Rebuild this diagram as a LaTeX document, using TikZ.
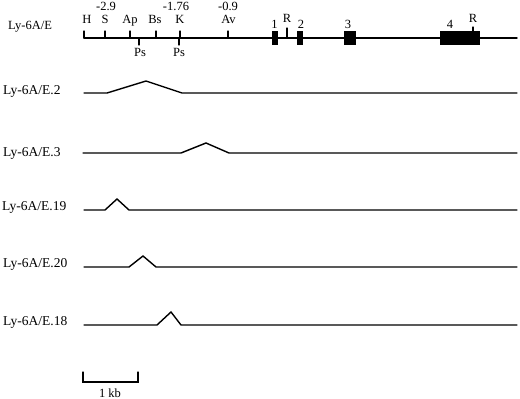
\documentclass[tikz,border=0pt]{standalone}
\usepackage{fontspec}
\setmainfont{Liberation Serif}
\usepackage{tikz}
\usepackage{tkz-euclide}

\begin{document}
\begin{tikzpicture}[x=1pt, y=-1pt,
    gene/.style={black, line width=1.4pt},
    site/.style={black, line width=1.1pt},
    sitelbl/.style={font=\fontsize{12.5}{14}\selectfont, inner sep=0pt, anchor=base},
    rowlbl/.style={font=\fontsize{13.5}{16}\selectfont, inner sep=0pt, anchor=base west}]
                \useasboundingbox (0,0) rectangle (520,399);
                \tkzDefPoints{84/38/G0, 517/38/G1}
                \tkzDefPoints{84/31/H, 105/31/S, 130/31/Ap, 156/31/Bs, 180/31/K, 228/31/Av, 139/45/Psa, 179/45/Psb, 287/28/Ra, 473/27/Rb}
                \tkzDefPoints{84/38/h, 105/38/s, 130/38/ap, 156/38/bs, 180/38/k, 228/38/av, 139/38/psa, 179/38/psb, 287/38/ra, 473/31/rb}
                \tkzDefPoints{272/31/Xa, 278/45/Xb, 297/31/Ya, 303/45/Yb, 344/31/Za, 356/45/Zb, 440/31/Wa, 480/45/Wb}
                \tkzDrawSegments[gene](G0,G1)
                \tkzDrawSegments[site](H,h S,s Ap,ap Bs,bs K,k Av,av Psa,psa Psb,psb Ra,ra Rb,rb)
                \fill (Xa) rectangle (Xb);
                \fill (Ya) rectangle (Yb);
                \fill (Za) rectangle (Zb);
                \fill (Wa) rectangle (Wb);
                \node[sitelbl] (lH) at (87,23) {H};
                \node[sitelbl] (lS) at (105,23) {S};
                \node[sitelbl] (lAp) at (130,23) {Ap};
                \node[sitelbl] (lBs) at (155,23) {Bs};
                \node[sitelbl] (lK) at (180,23) {K};
                \node[sitelbl] (lAv) at (228.5,23) {Av};
                \node[sitelbl] (nS) at (106,10) {-2.9};
                \node[sitelbl] (nK) at (176,10) {-1.76};
                \node[sitelbl] (nAv) at (228,10) {-0.9};
                \node[sitelbl] (lPsa) at (140,56) {Ps};
                \node[sitelbl] (lPsb) at (179,56) {Ps};
                \node[sitelbl] (e1) at (274.5,28) {1};
                \node[sitelbl] (lRa) at (287,22) {R};
                \node[sitelbl] (e2) at (301,28) {2};
                \node[sitelbl] (e3) at (348,28) {3};
                \node[sitelbl] (e4) at (450,28) {4};
                \node[sitelbl] (lRb) at (473,22) {R};
                \node[rowlbl, font=\fontsize{12.5}{15}\selectfont] (wt) at (8,29) {Ly-6A/E};
                \tkzDefPoints{84/93/A0, 107/93/A1, 146/81/A2, 182/93/A3, 517/93/A4}
                \tkzDrawPolySeg[gene](A0,A1,A2,A3,A4)
                \node[rowlbl] (mA) at (3,94) {Ly-6A/E.2};
                \tkzDefPoints{83/153/B0, 181/153/B1, 206/143/B2, 229/153/B3, 517/153/B4}
                \tkzDrawPolySeg[gene](B0,B1,B2,B3,B4)
                \node[rowlbl] (mB) at (3,156) {Ly-6A/E.3};
                \tkzDefPoints{84/210/C0, 105/210/C1, 117/199/C2, 129/210/C3, 517/210/C4}
                \tkzDrawPolySeg[gene](C0,C1,C2,C3,C4)
                \node[rowlbl] (mC) at (2,210) {Ly-6A/E.19};
                \tkzDefPoints{84/267/D0, 129/267/D1, 143/256/D2, 156/267/D3, 517/267/D4}
                \tkzDrawPolySeg[gene](D0,D1,D2,D3,D4)
                \node[rowlbl] (mD) at (3,267) {Ly-6A/E.20};
                \tkzDefPoints{84/325/F0, 157/325/F1, 171/312/F2, 181/325/F3, 517/325/F4}
                \tkzDrawPolySeg[gene](F0,F1,F2,F3,F4)
                \node[rowlbl] (mF) at (3,325) {Ly-6A/E.18};
                \tkzDefPoints{83/372/K0, 83/382/K1, 138/382/K2, 138/372/K3}
                \tkzDrawPolySeg[site](K0,K1,K2,K3)
                \node[sitelbl] (kb) at (110,397) {1 kb};
            \end{tikzpicture}
\end{document}
